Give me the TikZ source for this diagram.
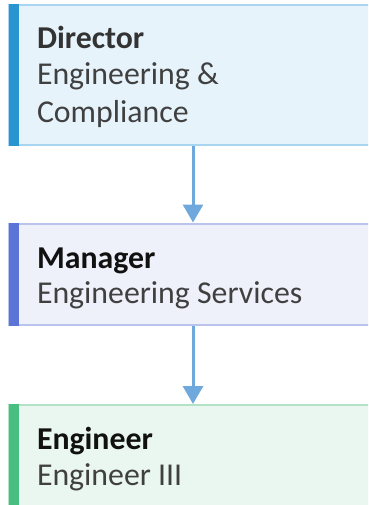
\documentclass[tikz,border=0pt]{standalone}
\usepackage{fontspec}
\setmainfont{Carlito}
\usetikzlibrary{arrows.meta}
\definecolor{fillA}{HTML}{E6F3FB}
\definecolor{lineA}{HTML}{A9D5F1}
\definecolor{barA}{HTML}{2A94D0}
\definecolor{fillB}{HTML}{EEF0FA}
\definecolor{lineB}{HTML}{BAC3EC}
\definecolor{barB}{HTML}{5B74D5}
\definecolor{fillC}{HTML}{EAF7F0}
\definecolor{lineC}{HTML}{B2E3C7}
\definecolor{barC}{HTML}{48BF80}
\definecolor{arrowcol}{HTML}{6FA8DC}
\definecolor{titleA}{HTML}{333333}
\definecolor{titleB}{HTML}{111111}
\definecolor{subcol}{HTML}{404040}
\tikzset{
  card/.style={rectangle, anchor=north west, inner sep=0pt, outer sep=0pt,
    line width=2pt, minimum width=400pt},
  txt/.style={anchor=base west, inner sep=0pt, outer sep=0pt,
    font=\fontsize{31.8}{36.5}\selectfont},
  ttl/.style={txt, font=\fontsize{31.8}{36.5}\selectfont\bfseries},
  conn/.style={draw=arrowcol, line width=3pt,
    -{Triangle[width=20pt,length=18pt]}},
}
\begin{document}
\begin{tikzpicture}[x=1pt,y=1pt]
\useasboundingbox (0,0) rectangle (368,-505);
\clip (0,0) rectangle (368,-505);
% boxes
\node[card, fill=fillA, draw=lineA, minimum height=139.7pt] (d) at (8.5,-5.3) {};
\node[card, fill=fillB, draw=lineB, minimum height=101.5pt] (m) at (8.5,-223.5) {};
\node[card, fill=fillC, draw=lineC, minimum height=140pt] (e) at (8.5,-405) {};
% left bars
\fill[barA] ([yshift=1pt]d.north west) rectangle ([xshift=10.5pt,yshift=-1pt]d.south west);
\fill[barB] ([yshift=1pt]m.north west) rectangle ([xshift=10.5pt,yshift=-1pt]m.south west);
\fill[barC] ([yshift=1pt]e.north west) rectangle ([xshift=10.5pt,yshift=-1pt]e.south west);
% texts
\node[ttl, text=titleA] (dt) at (37,-48.5) {Director};
\node[txt, text=subcol] (ds1) at (37,-85) {Engineering \&};
\node[txt, text=subcol] (ds2) at (37,-122.5) {Compliance};
\node[ttl, text=titleB] (mt) at (37,-268) {Manager};
\node[txt, text=subcol] (ms) at (37,-303.5) {Engineering Services};
\node[ttl, text=titleB] (et) at (37,-449) {Engineer};
\node[txt, text=subcol] (es) at (37,-485) {Engineer III};
% connectors
\coordinate (ax) at (193,0);
\draw[conn] ([yshift=-1pt]d.south -| ax) -- ([yshift=1pt]m.north -| ax);
\draw[conn] ([yshift=-1pt]m.south -| ax) -- ([yshift=1pt]e.north -| ax);
\end{tikzpicture}
\end{document}
